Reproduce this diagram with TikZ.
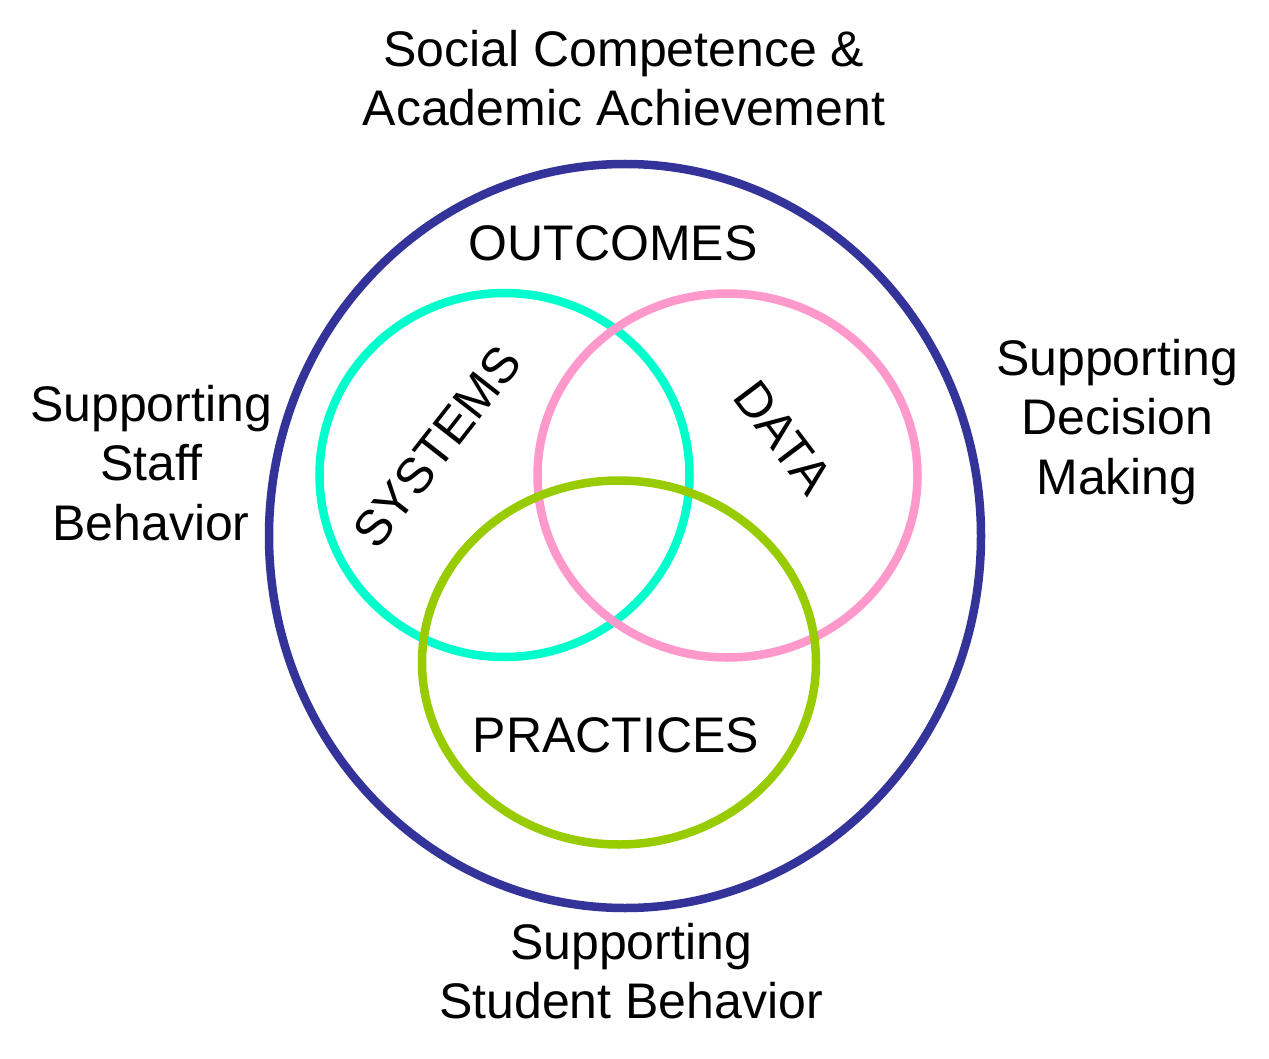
\documentclass[tikz,border=0pt]{standalone}
\usepackage{fontspec}
\setmainfont{Liberation Sans}
\definecolor{navy}{HTML}{333399}
\definecolor{cyanring}{HTML}{00FFCC}
\definecolor{pinkring}{HTML}{FF99CC}
\definecolor{greenring}{HTML}{99CC00}
\begin{document}
\begin{tikzpicture}[x=1pt,y=-1pt,
  ring/.style={line width=8.5pt},
  lbl/.style={font=\fontsize{50}{59.5}\selectfont, align=center, inner sep=0pt}]
\useasboundingbox (0,0) rectangle (1269,1059);
\fill[white] (0,0) rectangle (1269,1059);
\draw[ring, navy] (625,536) ellipse [x radius=356pt, y radius=372pt];
\draw[ring, cyanring] (504.5,475) ellipse [x radius=185pt, y radius=182pt];
\draw[ring, pinkring] (727.5,475.5) ellipse [x radius=190pt, y radius=182pt];
\draw[ring, greenring] (619,662.5) ellipse [x radius=197pt, y radius=182pt];
\node[lbl] (top) at (624,78) {Social Competence \&\\Academic Achievement};
\node[lbl] (out) at (613,243) {OUTCOMES};
\node[lbl] (prac) at (616,735) {PRACTICES};
\node[lbl, rotate=52] (sys) at (437,447) {SYSTEMS};
\node[lbl, rotate=-53] (data) at (783,437) {DATA};
\node[lbl] (staff) at (151,463) {Supporting\\Staff\\Behavior};
\node[lbl] (dec) at (1117,422) {Supporting\\Decision\\Making};
\node[lbl] (stud) at (631,971) {Supporting\\Student Behavior};
\end{tikzpicture}
\end{document}
